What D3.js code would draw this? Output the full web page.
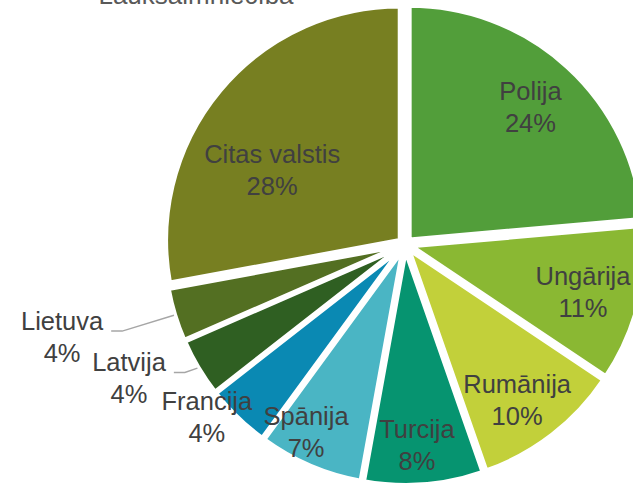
<!DOCTYPE html>
<html>
<head>
<meta charset="UTF-8" />
<style>
    body { margin: 0; padding: 0; background: #fff; }
    svg { display: block; }
    .lbl { font-family: "Liberation Sans", Arial, sans-serif; font-size: 25.5px; fill: #404040; }
    .title { font-family: "Liberation Sans", Arial, sans-serif; font-size: 26px; fill: #595959; }
    .leader { fill: none; stroke: #a6a6a6; stroke-width: 1.5px; }
</style>
<title>Pie</title>
</head>
<body>
<svg width="633" height="483"></svg>
<script src="https://cdnjs.cloudflare.com/ajax/libs/d3/7.8.5/d3.min.js"></script>
<script>
    // data (share, %), labels show rounded values
    const countries = ["Polija", "Ungārija", "Rumānija", "Turcija", "Spānija", "Francija", "Latvija", "Lietuva", "Citas valstis"];
    const shares = [23.6, 10.8, 10.25, 8.2, 7.2, 4.4, 4.0, 3.65, 27.9];
    const colors = ["#529e3a", "#8ab833", "#c2d03a", "#069470", "#4ab5c4", "#0a89b3", "#2f5f22", "#536f22", "#777f21"];
    const title = "Lauksaimniecība";

    // label placement: [radius factor, angle nudge in degrees, leader line?]
    const labelPlace = [
        [0.794, 0, false], [0.787, 0.5, false], [0.819, 1.9, false], [0.858, 1.1, false],
        [0.906, 4.6, false], [1.124, 4.8, false], [1.311, 4.9, true], [1.518, 1.9, true],
        [0.651, -10.5, false]
    ];

    const svg = d3.select("svg");
    const cx = 405, cy = 244.5, r = 234, explode = 6.6;

    svg.append("text").attr("class", "title")
        .attr("x", 196).attr("y", 3.5).attr("text-anchor", "middle")
        .text(title);

    const pie = d3.pie().sort(null).value(d => d);
    const arcs = pie(shares);
    const arc = d3.arc().innerRadius(0).outerRadius(r);

    const g = svg.append("g").attr("transform", `translate(${cx},${cy})`);

    const mid = d => (d.startAngle + d.endAngle) / 2;

    g.selectAll("path.slice")
        .data(arcs)
        .enter().append("path")
        .attr("class", "slice")
        .attr("d", arc)
        .attr("fill", (d, i) => colors[i])
        .attr("stroke", "#fff")
        .attr("stroke-width", 4.4)
        .attr("stroke-linejoin", "miter")
        .attr("transform", d => {
            const a = mid(d);
            return `translate(${explode * Math.sin(a)},${-explode * Math.cos(a)})`;
        });

    const lineGap = 32;

    arcs.forEach((d, i) => {
        const [k, nudge, outside] = labelPlace[i];
        const a = mid(d) + nudge * Math.PI / 180;
        const x = k * r * Math.sin(a);
        const y = -k * r * Math.cos(a);
        const t = g.append("text").attr("class", "lbl")
            .attr("text-anchor", "middle")
            .attr("x", x).attr("y", y - 7);
        t.append("tspan").attr("x", x).text(countries[i]);
        t.append("tspan").attr("x", x).attr("dy", lineGap).text(Math.round(shares[i]) + "%");

        if (outside) {
            const w = t.select("tspan").node().getComputedTextLength();
            const x0 = x + w / 2 + 8;
            const y0 = y - 6;
            const am = mid(d);
            const re = r + explode + 1;
            const ex = re * Math.sin(am), ey = -re * Math.cos(am);
            g.append("path").attr("class", "leader")
                .attr("d", d3.line()([[x0, y0], [x0 + 11, y0], [ex, ey]]));
        }
    });
</script>
</body>
</html>
